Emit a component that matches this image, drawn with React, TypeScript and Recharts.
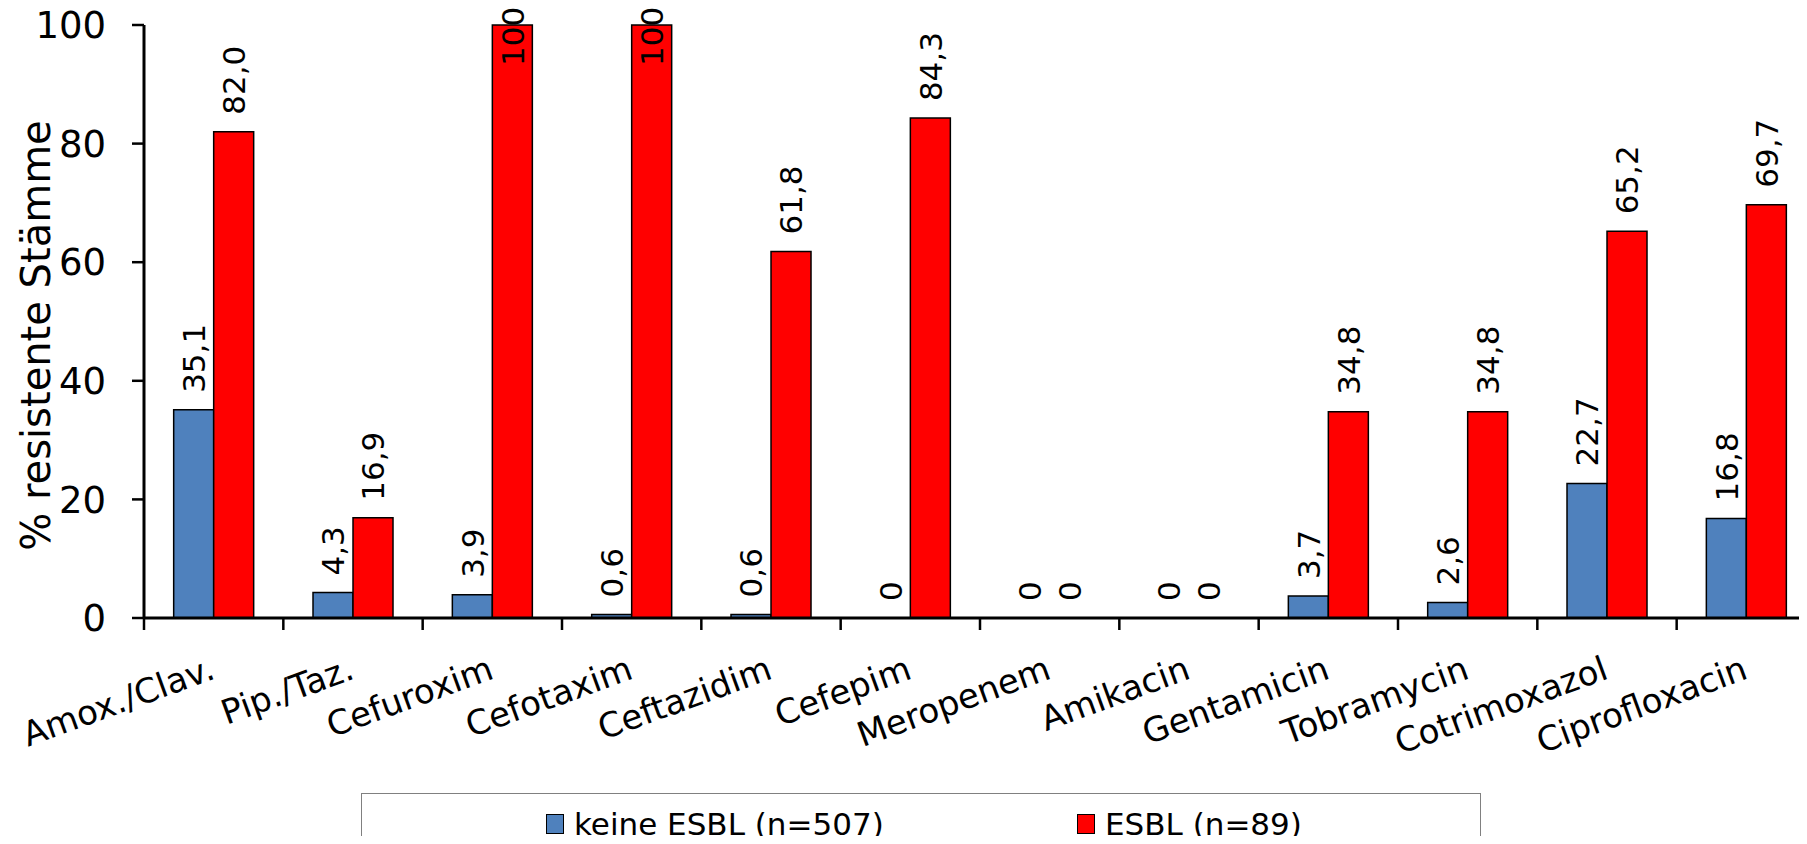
import React from 'react';
import { BarChart, Bar, XAxis, YAxis, LabelList } from 'recharts';

const categories = [
  'Amox./Clav.',
  'Pip./Taz.',
  'Cefuroxim',
  'Cefotaxim',
  'Ceftazidim',
  'Cefepim',
  'Meropenem',
  'Amikacin',
  'Gentamicin',
  'Tobramycin',
  'Cotrimoxazol',
  'Ciprofloxacin',
];
const keineEsbl = [35.1, 4.3, 3.9, 0.6, 0.6, 0, 0, 0, 3.7, 2.6, 22.7, 16.8];
const esbl = [82.0, 16.9, 100, 100, 61.8, 84.3, 0, 0, 34.8, 34.8, 65.2, 69.7];
const yTicks = [0, 20, 40, 60, 80, 100];
const seriesNames = ['keine ESBL (n=507)', 'ESBL (n=89)'];

const data = categories.map((name, i) => ({ name, keine: keineEsbl[i], esbl: esbl[i] }));

const FONT = '"DejaVu Sans", Verdana, sans-serif';
const CHART_W = 1816;
const CHART_H = 844;
const Y_W = 144;
const BAND = (CHART_W - Y_W) / categories.length;
const BLUE = '#4F81BD';
const RED = '#FF0000';

// values like 82,0 keep one decimal; 0 and 100 are plain
const fmt = (v: number) => (v === 0 || v === 100 ? String(v) : v.toFixed(1).replace('.', ','));

// zero bars get a hairline height so their "0" label is still drawn
const minSize = (v: any) => (Number(v) === 0 ? 0.01 : 0);

const renderBarLabel = (props: any) => {
  const { x, y, width, value } = props;
  const cx = Number(x) + Number(width) / 2;
  const start = Math.max(Number(y) - 17, 66);
  return (
    <text
      transform={`translate(${cx},${start}) rotate(-90)`}
      dy="0.36em"
      fontSize={31}
      fontFamily={FONT}
      fill="#000"
    >
      {fmt(Number(value))}
    </text>
  );
};

const XTick = (props: any) => {
  const { x, y, payload, index } = props;
  const left = x - BAND / 2;
  return (
    <g>
      <line x1={left} y1={y} x2={left} y2={y + 12} stroke="#000" strokeWidth={2.5} />
      {index === categories.length - 1 && (
        <line x1={x + BAND / 2} y1={y} x2={x + BAND / 2} y2={y + 12} stroke="#000" strokeWidth={2.5} />
      )}
      <text
        transform={`translate(${x + 3},${y + 60}) rotate(-20)`}
        textAnchor="end"
        fontSize={34}
        fontFamily={FONT}
        fill="#000"
      >
        {payload.value}
      </text>
    </g>
  );
};

const YLabel = (props: any) => {
  const vb = props.viewBox || {};
  const x = vb.x + 50;
  const y = vb.y + vb.height / 2 + 14;
  return (
    <text
      transform={`translate(${x},${y}) rotate(-90)`}
      textAnchor="middle"
      fontSize={40}
      fontFamily={FONT}
      fill="#000"
    >
      % resistente Stämme
    </text>
  );
};

export default function App() {
  return (
    <div style={{ margin: -8, width: 1807, height: 844, overflow: 'hidden', position: 'relative', background: '#fff' }}>
      <BarChart
        width={CHART_W}
        height={CHART_H}
        data={data}
        margin={{ top: 25, right: 0, bottom: 0, left: 0 }}
        barCategoryGap="21.3%"
        barGap={0}
      >
        <XAxis
          dataKey="name"
          height={226}
          interval={0}
          tickSize={0}
          tickMargin={0}
          tickLine={false}
          axisLine={{ stroke: '#000', strokeWidth: 3 }}
          tick={<XTick />}
        />
        <YAxis
          width={Y_W}
          domain={[0, 100]}
          ticks={yTicks}
          interval={0}
          tickSize={12}
          tickMargin={26}
          axisLine={{ stroke: '#000', strokeWidth: 3 }}
          tickLine={{ stroke: '#000', strokeWidth: 2.5 }}
          tick={{ fontSize: 37, fontFamily: FONT, fill: '#000' }}
          label={<YLabel />}
        />
        <Bar
          dataKey="keine"
          name={seriesNames[0]}
          fill={BLUE}
          stroke="#000"
          strokeWidth={1.5}
          minPointSize={minSize}
          isAnimationActive={false}
        >
          <LabelList dataKey="keine" content={renderBarLabel} />
        </Bar>
        <Bar
          dataKey="esbl"
          name={seriesNames[1]}
          fill={RED}
          stroke="#000"
          strokeWidth={1.5}
          minPointSize={minSize}
          isAnimationActive={false}
        >
          <LabelList dataKey="esbl" content={renderBarLabel} />
        </Bar>
      </BarChart>
      <div
        style={{
          position: 'absolute',
          left: 361,
          top: 793,
          width: 1120,
          height: 80,
          border: '1.5px solid #808080',
          boxSizing: 'border-box',
          fontFamily: FONT,
          fontSize: 31,
          color: '#000',
        }}
      >
        {seriesNames.map((n, i) => (
          <div
            key={n}
            style={{
              position: 'absolute',
              left: i === 0 ? 184 : 715,
              top: 12,
              display: 'flex',
              alignItems: 'center',
              whiteSpace: 'nowrap',
            }}
          >
            <span
              style={{
                display: 'inline-block',
                width: 16,
                height: 18,
                background: i === 0 ? BLUE : RED,
                border: '1.5px solid #000',
                marginRight: 10,
              }}
            />
            {n}
          </div>
        ))}
      </div>
    </div>
  );
}
